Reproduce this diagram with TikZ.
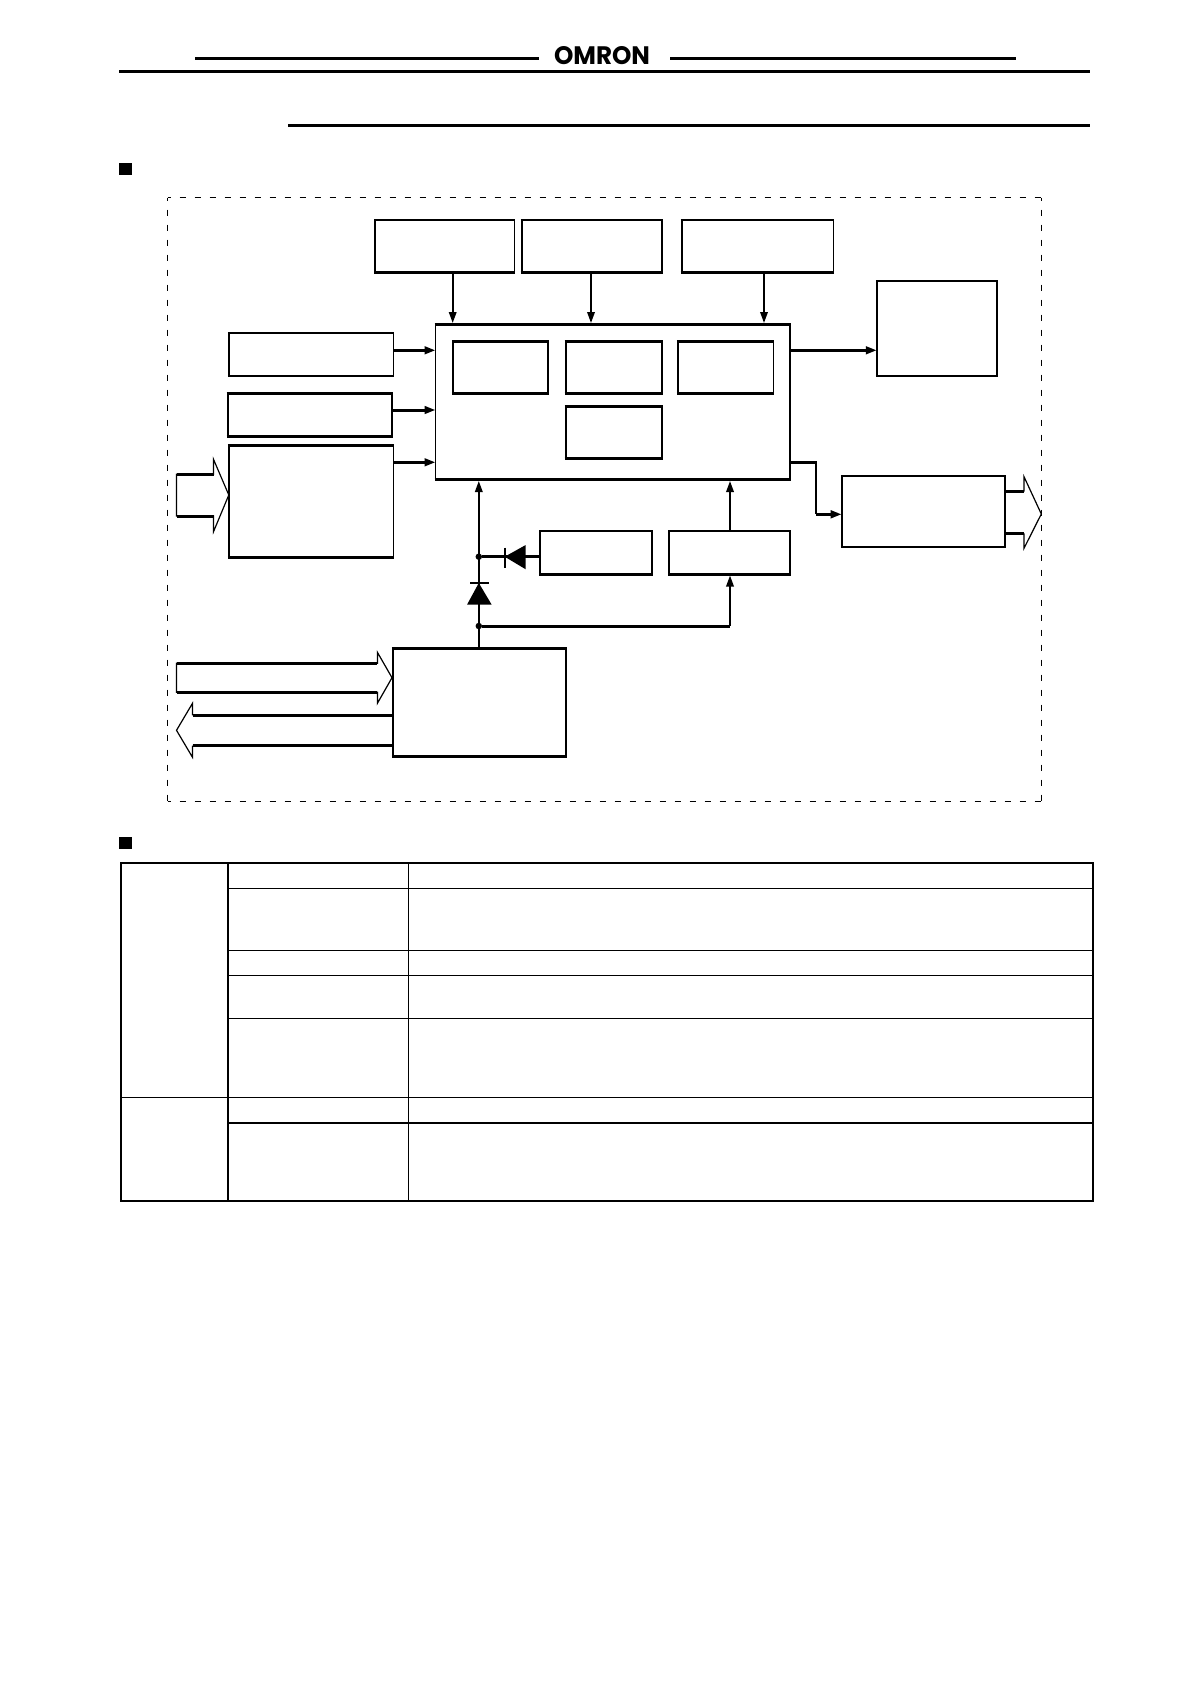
\documentclass[tikz,border=0pt]{standalone}
\usepackage{fontspec}
\usepackage{graphicx}
\setmainfont{Poppins}
\usetikzlibrary{arrows.meta,calc}
\tikzset{
  boxn/.style={draw=black,fill=white,line width=1.8pt,inner sep=0pt,outer sep=0pt},
  wire/.style={draw=black,line width=1.8pt},
  headtip/.style={-{Triangle[length=11pt,width=7.5pt]}},
  wirehead/.style={wire,headtip},
  thickrun/.style={draw=black,line width=3pt},
  blockarrow/.style={draw=black,line width=1.2pt,fill=white,line join=miter},
  gridline/.style={draw=black,line width=1.2pt},
  frameline/.style={draw=black,line width=1.5pt,dash pattern=on 6pt off 9pt,dash phase=3pt},
  junction/.style={circle,fill=black,inner sep=0pt,minimum size=6.5pt,outer sep=0pt},
  barline/.style={draw=black,line width=1.6pt},
  rulethick/.style={draw=black,line width=3pt}
}
\newcommand{\bx}[5]{\node[boxn,minimum width={(#4-#2)*1pt},minimum height={(#5-#3)*1pt}] (#1) at ({(#2+#4)/2},{(#3+#5)/2}) {};}
\newcommand{\hed}[3]{\draw[draw=black,line width=#2,shorten <=-.9pt,shorten >=-.9pt] (#1.north west)--(#1.north east);\draw[draw=black,line width=#3,shorten <=-.9pt,shorten >=-.9pt] (#1.south west)--(#1.south east);}
\begin{document}
\begin{tikzpicture}[x=1pt,y=-1pt]
\useasboundingbox (0,0) rectangle (1190,1684);
\fill[white] (0,0) rectangle (1190,1684);
% header
\draw[rulethick] (195,58) -- (539,58);
\draw[rulethick] (670,58) -- (1016,58);
\draw[rulethick] (119,71.3) -- (1090,71.3);
\draw[rulethick] (288,125.3) -- (1090,125.3);
\node[inner sep=0pt,outer sep=0pt] (logo) at (602,56) {\resizebox{96pt}{18pt}{\bfseries OMRON}};
% section markers
\fill[black] (119,162.7) rectangle (132,175);
\fill[black] (119,836.7) rectangle (132,849);
% dashed frame
\draw[frameline] (167.6,197.7) -- (1041.3,197.7);
\draw[frameline] (167.6,197.7) -- (167.6,801.7);
\draw[frameline] (167.6,801.7) -- (1041.3,801.7);
\draw[frameline] (1041.3,197.7) -- (1041.3,801.7);
% blocks
\bx{a}{375}{220}{514.5}{272.3}
\bx{b}{521.6}{220}{661.9}{272.3}
\bx{c}{681.6}{220}{833.4}{272.3}
\bx{d}{876.8}{280.7}{997.3}{376}
\bx{e}{435.5}{324.3}{790}{479.7}
\bx{p}{452.7}{341}{548.3}{393.7}
\bx{q}{565.6}{341}{661.9}{393.7}
\bx{r}{677.8}{341}{773.5}{393.7}
\bx{s}{565.6}{406}{661.9}{458.7}
\bx{f}{228.8}{333}{393.4}{376}
\bx{g}{227.6}{393.3}{392}{436.7}
\bx{h}{228.8}{445.7}{393.4}{557.3}
\bx{i}{841.7}{476}{1005}{546.7}
\bx{j}{540}{531}{652.3}{574.3}
\bx{k}{668.9}{531}{790}{574.3}
\bx{l}{392.7}{648.3}{565.6}{756.7}
\hed{a}{2.8pt}{2.8pt}\hed{b}{2.8pt}{2.8pt}\hed{c}{2.8pt}{2.8pt}
\hed{d}{1.8pt}{1.8pt}\hed{e}{3pt}{3pt}
\hed{p}{3pt}{3pt}\hed{q}{3pt}{3pt}\hed{r}{3pt}{3pt}\hed{s}{3pt}{3pt}
\hed{f}{1.8pt}{1.8pt}\hed{g}{3pt}{3pt}\hed{h}{3pt}{2.6pt}
\hed{i}{2.6pt}{1.8pt}\hed{j}{2.8pt}{2.8pt}\hed{k}{2.8pt}{2.8pt}\hed{l}{3pt}{3pt}
% entry points on the main block
\coordinate (ea) at (452.7,323);
\coordinate (eb) at (591,323);
\coordinate (ec) at (764,323);
\coordinate (ef) at (435.5,350.3);
\coordinate (eg) at (435.5,410);
\coordinate (eh) at (435.5,462.3);
\coordinate (ed) at (790,350.3);
\coordinate (ei) at (790,462.3);
\coordinate (el) at (478.8,481);
\coordinate (ek) at (730,481);
\coordinate (ii) at (841.7,514.3);
% top connectors
\draw[wirehead] (ea |- a.south) -- (ea);
\draw[wirehead] (eb |- b.south) -- (eb);
\draw[wirehead] (ec |- c.south) -- (ec);
% side connectors
\draw[thickrun,headtip] (f.east |- ef) -- (ef);
\draw[thickrun,headtip] (g.east |- eg) -- (eg);
\draw[thickrun,headtip] (h.east |- eh) -- (eh);
\draw[thickrun,headtip] (ed) -- (d.west |- ed);
% main block to output block
\coordinate (bend) at (815.6,462.3);
\draw[wire] (bend) -- (bend |- ii);
\draw[thickrun,line cap=rect] (ei) -- (bend);
\draw[thickrun,headtip] (bend |- ii) -- (ii);
% lower connectors
\draw[wirehead] (k.north -| ek) -- (ek);
\draw[wirehead] (l.north -| el) -- (el);
\node[junction] (d1) at (478.8,556.7) {};
\node[junction] (d2) at (478.8,626) {};
\draw[thickrun] (d1) -- (j.west |- d1);
\coordinate (kb) at (730,575.5);
\coordinate (kc) at (730,626);
\draw[wirehead] (kc) -- (kb);
\draw[thickrun] (d2) -- (kc);
% diodes
\fill[black] (504.7,556.7) -- (525.7,545) -- (525.7,569.3) -- cycle;
\draw[barline] (504.7,547.7) -- (504.7,567.7);
\fill[black] (478.8,583) -- (467,604.7) -- (491.7,604.7) -- cycle;
\draw[barline,line width=2.2pt] (470,583) -- (488.7,583);
% block arrows
\draw[blockarrow] (176.5,474.3) -- (213.5,474.3) -- (213.5,459.3) -- (228.8,495) -- (213.5,531.7) -- (213.5,516) -- (176.5,516) -- cycle;
\draw[thickrun] (176.5,474.3) -- (213.5,474.3);
\draw[thickrun] (176.5,516) -- (213.5,516);
\draw[blockarrow,fill=none] (1024,491.7) -- (1024,476.7) -- (1041.3,514) -- (1024,548.3) -- (1024,533.3);
\draw[thickrun] (i.east |- 0,491.7) -- (1024,491.7);
\draw[thickrun] (i.east |- 0,533.3) -- (1024,533.3);
\draw[blockarrow] (176.5,663.3) -- (377.4,663.3) -- (377.4,652.3) -- (392,677.7) -- (377.4,703.3) -- (377.4,692.3) -- (176.5,692.3) -- cycle;
\draw[thickrun] (176.5,663.3) -- (377.4,663.3);
\draw[thickrun] (176.5,692.3) -- (377.4,692.3);
\draw[blockarrow,fill=none] (192.5,715.3) -- (192.5,703.3) -- (176.5,730.3) -- (192.5,757.3) -- (192.5,745.7);
\draw[thickrun] (192.5,715.3) -- (l.west |- 0,715.3);
\draw[thickrun] (192.5,745.7) -- (l.west |- 0,745.7);
% table
\draw[gridline] (228,862.7) -- (228,1200.7);
\draw[gridline] (408.5,862.7) -- (408.5,1200.7);
\draw[gridline] (228,888.3) -- (1093,888.3);
\draw[gridline] (228,950.3) -- (1093,950.3);
\draw[gridline] (228,975.3) -- (1093,975.3);
\draw[gridline] (228,1018.3) -- (1093,1018.3);
\draw[gridline,line width=1.4pt] (120.7,1097.3) -- (1093,1097.3);
\draw[gridline,line width=2pt] (228,1123) -- (1093,1123);
\draw[draw=black,line width=2.2pt] (120.7,862.7) rectangle (1093,1200.7);
\end{tikzpicture}
\end{document}
